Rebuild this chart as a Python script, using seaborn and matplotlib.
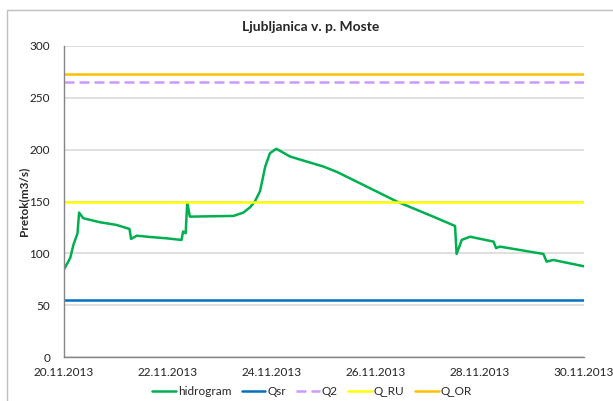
import pandas as pd
import matplotlib
matplotlib.use("Agg")
import matplotlib.pyplot as plt
from matplotlib.patches import Rectangle
import seaborn as sns

# %% Podatki (odčitani z grafa)

# čas v dnevih novembra 2013 (20.0 = 20.11.2013 00:00)
dan = [20.00, 20.12, 20.18, 20.26, 20.29, 20.37, 20.69, 21.01, 21.26, 21.29,
       21.40, 21.65, 21.97, 22.26, 22.29, 22.34, 22.37, 22.42, 23.26, 23.45,
       23.58, 23.67, 23.77, 23.87, 23.96, 24.08, 24.15, 24.35, 24.67, 24.99,
       25.25, 25.82, 26.40, 27.10, 27.52, 27.55, 27.65, 27.81, 28.26, 28.31,
       28.38, 29.22, 29.28, 29.41, 30.00]
pretok = [84.5, 95.5, 108.0, 119.4, 139.3, 133.9, 130.0, 127.4, 123.5, 113.9,
          117.0, 115.8, 114.5, 112.9, 121.0, 119.4, 149.0, 135.4, 136.1, 139.3,
          144.5, 150.0, 160.0, 183.7, 196.5, 200.8, 199.0, 193.3, 188.5, 183.7,
          178.5, 164.4, 150.0, 135.4, 126.4, 99.4, 113.0, 116.0, 111.3, 105.0,
          106.5, 99.4, 92.0, 93.6, 87.5]

Qsr = 55
Q2 = 265.5
Q_RU = 150
Q_OR = 273

zacetek = pd.Timestamp("2013-11-20")
konec = pd.Timestamp("2013-11-30")
oznake_x = ["20.11.2013", "22.11.2013", "24.11.2013", "26.11.2013", "28.11.2013", "30.11.2013"]

# %% Priprava

cas = [zacetek + pd.Timedelta(days=d - 20) for d in dan]
df = pd.DataFrame({"cas": cas, "pretok": pretok})
meje = [zacetek, konec]

sns.set_style("white")
plt.rcParams["font.family"] = ["Lato", "DejaVu Sans"]

fig = plt.figure(figsize=(6.13, 4.01), dpi=100)
ax = fig.add_axes([64 / 613, 1 - 357 / 401, 520 / 613, 311 / 401])

# okvir grafikona
fig.patches.append(Rectangle((7 / 613, -0.05), 2, 1 - 10 / 401 + 0.05,
                             transform=fig.transFigure, fill=False,
                             edgecolor="#bfbfbf", lw=1))

sns.lineplot(data=df, x="cas", y="pretok", ax=ax, color="#00b050", lw=1.8, label="hidrogram")
sns.lineplot(x=meje, y=[Qsr, Qsr], ax=ax, color="#0070c0", lw=1.8, label="Qsr")
sns.lineplot(x=meje, y=[Q2, Q2], ax=ax, color="#cc99ff", lw=1.8, label="Q2")
ax.lines[-1].set_linestyle((0, (4, 2)))
sns.lineplot(x=meje, y=[Q_RU, Q_RU], ax=ax, color="#ffff00", lw=1.8, label="Q_RU")
sns.lineplot(x=meje, y=[Q_OR, Q_OR], ax=ax, color="#ffc000", lw=1.8, label="Q_OR")

ax.set_xlim(zacetek, konec)
ax.set_ylim(0, 300)
ax.set_yticks(range(0, 301, 50))
ax.set_xticks([pd.to_datetime(o, format="%d.%m.%Y") for o in oznake_x])
ax.set_xticklabels(oznake_x)
ax.yaxis.grid(True, color="#d9d9d9", lw=1.2)
ax.set_axisbelow(True)
for s in ["top", "right"]:
    ax.spines[s].set_visible(False)
for s in ["left", "bottom"]:
    ax.spines[s].set_color("#868686")
    ax.spines[s].set_linewidth(1)
ax.tick_params(axis="both", length=4, color="#868686", labelsize=8.5, labelcolor="#222222", direction="out")
ax.tick_params(axis="y", pad=6)

ax.set_xlabel("")
ax.set_ylabel("Pretok(m3/s)", fontsize=8.5, fontweight="bold", labelpad=0)
fig.text(311 / 613, 1 - 27 / 401, "Ljubljanica v. p. Moste", ha="center", va="center",
         fontsize=10, fontweight="bold")

ax.legend(loc="center", bbox_to_anchor=(0.477, -0.11), ncol=5, frameon=False,
          fontsize=8.5, handlelength=2.0, columnspacing=0.9, handletextpad=0.15)

fig.savefig("out.png", dpi=100)
